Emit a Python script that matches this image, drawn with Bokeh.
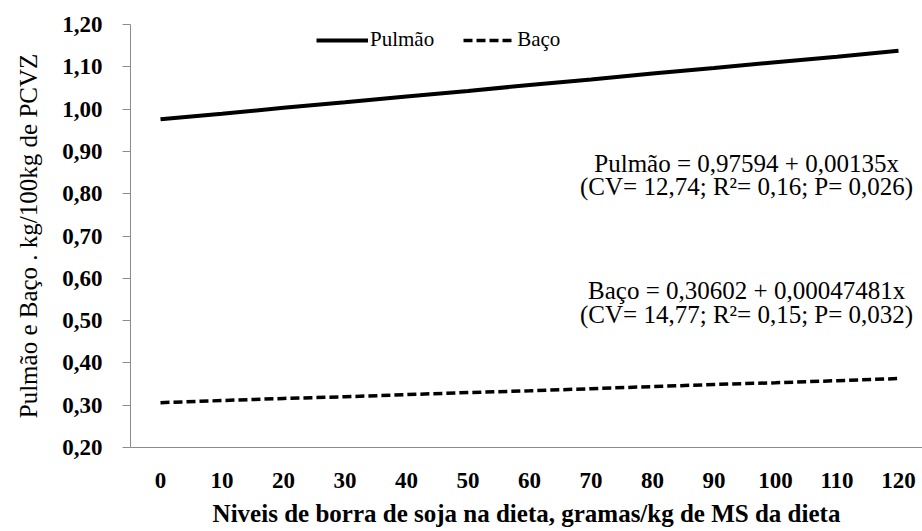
from bokeh.plotting import figure
from bokeh.models import FixedTicker, Range1d, Legend, LegendItem, Label, CustomJSTickFormatter
from bokeh.embed import file_html
from bokeh.resources import INLINE

# Data
niveis = [0, 10, 20, 30, 40, 50, 60, 70, 80, 90, 100, 110, 120]
pulmao = [0.976, 0.989, 1.003, 1.016, 1.030, 1.043, 1.057, 1.070, 1.084, 1.097, 1.111, 1.124, 1.138]
baco = [0.306, 0.311, 0.316, 0.320, 0.325, 0.330, 0.334, 0.339, 0.344, 0.349, 0.353, 0.358, 0.363]
y_ticks = [0.20, 0.30, 0.40, 0.50, 0.60, 0.70, 0.80, 0.90, 1.00, 1.10, 1.20]

eq_pulmao = ["Pulmão = 0,97594 + 0,00135x", "(CV= 12,74; R²= 0,16; P= 0,026)"]
eq_baco = ["Baço = 0,30602 + 0,00047481x", "(CV= 14,77; R²= 0,15; P= 0,032)"]

FONT = "Times New Roman"

p = figure(width=922, height=531, output_backend="svg", toolbar_location=None,
           x_range=Range1d(-4.88, 123.9), y_range=Range1d(0.20, 1.20))
p.min_border_left = 130
p.min_border_top = 24
p.min_border_right = 0
p.min_border_bottom = 84
p.outline_line_color = None
p.xgrid.grid_line_color = None
p.ygrid.grid_line_color = None

# axes
p.xaxis.ticker = FixedTicker(ticks=niveis)
p.yaxis.ticker = FixedTicker(ticks=y_ticks)
p.yaxis.formatter = CustomJSTickFormatter(code="return tick.toFixed(2).replace('.', ',');")
for ax in (p.xaxis[0], p.yaxis[0]):
    ax.axis_line_color = "#8c8c8c"
    ax.major_tick_line_color = "#8c8c8c"
    ax.minor_tick_line_color = None
    ax.major_label_text_font = FONT
    ax.major_label_text_font_style = "bold"
    ax.major_label_text_font_size = "23px"
    ax.major_label_text_color = "black"
    ax.axis_label_text_font = FONT
    ax.axis_label_text_color = "black"
p.xaxis.major_tick_line_color = None
p.xaxis.major_label_standoff = 19
p.yaxis.major_tick_out = 8
p.yaxis.major_tick_in = 0
p.yaxis.major_label_standoff = 20

p.xaxis.axis_label = "Niveis de borra de soja na dieta, gramas/kg de MS da dieta"
p.xaxis.axis_label_text_font_size = "25px"
p.xaxis.axis_label_text_font_style = "bold"
p.xaxis.axis_label_standoff = 9
p.yaxis.axis_label = "Pulmão e Baço . kg/100kg de PCVZ"
p.yaxis.axis_label_text_font_size = "25px"
p.yaxis.axis_label_text_font_style = "normal"
p.yaxis.axis_label_standoff = 17

r1 = p.line(niveis, pulmao, line_color="black", line_width=4)
r2 = p.line(niveis, baco, line_color="black", line_width=3.5, line_dash="9 4")

legend = Legend(items=[LegendItem(label="Pulmão", renderers=[r1]),
                       LegendItem(label="Baço", renderers=[r2])],
                orientation="horizontal", location=(186, 395),
                glyph_width=52, glyph_height=24, label_height=24,
                label_standoff=2, spacing=29, padding=0, margin=0,
                border_line_color=None, background_fill_alpha=0,
                label_text_font=FONT, label_text_font_size="21px",
                label_text_color="black")
p.add_layout(legend, "center")

def add_eq(lines, ys):
    for t, yy in zip(lines, ys):
        p.add_layout(Label(x=95.3, y=yy, text=t, text_align="center", text_baseline="middle",
                           text_font=FONT, text_font_size="25px", text_color="black"))

add_eq(eq_pulmao, [0.872, 0.816])
add_eq(eq_baco, [0.570, 0.515])

open("out.html", "w").write(file_html(p, INLINE))
